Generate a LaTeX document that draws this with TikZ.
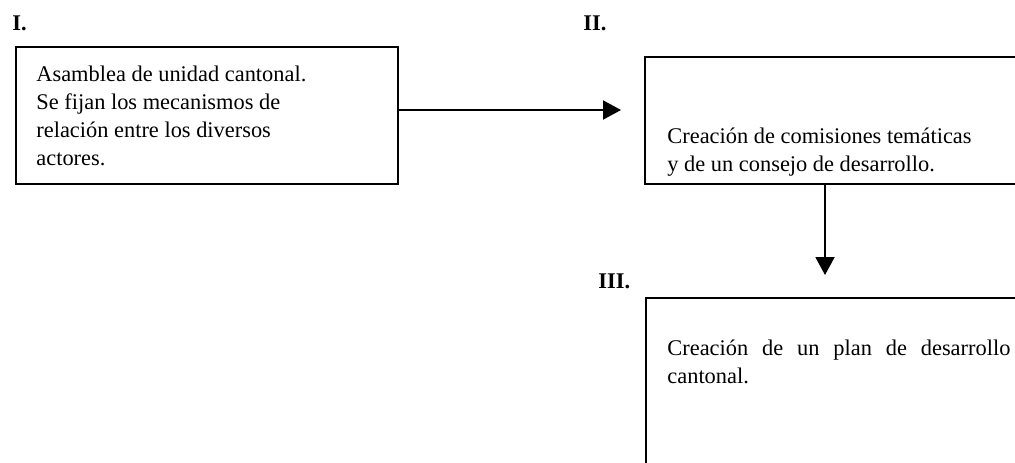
\documentclass[tikz,border=0pt]{standalone}
\usepackage{fontspec}
\setmainfont{Liberation Serif}
\usetikzlibrary{%
  arrows.meta,%
  calc%
}
\tikzset{>={Triangle[length=9pt,width=9.5pt]}}
\tikzset{
  panel/.style={draw,line width=1.2pt,anchor=north west,inner sep=0pt},
  panetext/.style={anchor=base west,inner sep=0pt,font=\fontsize{11.2}{14}\selectfont},
  steplabel/.style={anchor=base west,inner sep=0pt,font=\fontsize{11.2}{14}\selectfont\bfseries}
}

\begin{document}
\begin{tikzpicture}[x=0.5pt,y=-0.5pt]
        \useasboundingbox (0,0) rectangle (1015,462);
        \clip (0,0) rectangle (1015,462);
        % step labels
        \node[steplabel] (lblI) at (12,30) {I.};
        \node[steplabel] (lblII) at (583,30) {II.};
        \node[steplabel] (lblIII) at (598,288) {III.};
        % boxes
        \node[panel,minimum width=191pt,minimum height=68.5pt] (boxI) at (15,46) {};
        \node[panel,minimum width=200pt,minimum height=63.5pt] (boxII) at (644,56) {};
        \node[panel,minimum width=200pt,minimum height=100pt] (boxIII) at (645,297) {};
        % texts (base = last line)
        \node[panetext,align=left] (txtI) at (36,165) {Asamblea de unidad cantonal.\\
        Se fijan los mecanismos de\\ relación entre los diversos\\ actores.};
        \node[panetext,align=left] (txtII) at (667,171) {Creación de comisiones temáticas\\
        y de un consejo de desarrollo.};
        \node[panetext,text width=171.5pt,align=justify] (txtIII) at (667,355)
        {Creación de un plan de desarrollo\linebreak cantonal.};
        % arrows
        \coordinate (tipII) at (621,110);
        \coordinate (tipIII) at (825,275);
        \draw[line width=1pt,->] (boxI.east |- tipII) -- (tipII);
        \draw[line width=1pt,->] (boxII.south -| tipIII) -- (tipIII);
      \end{tikzpicture}
\end{document}
